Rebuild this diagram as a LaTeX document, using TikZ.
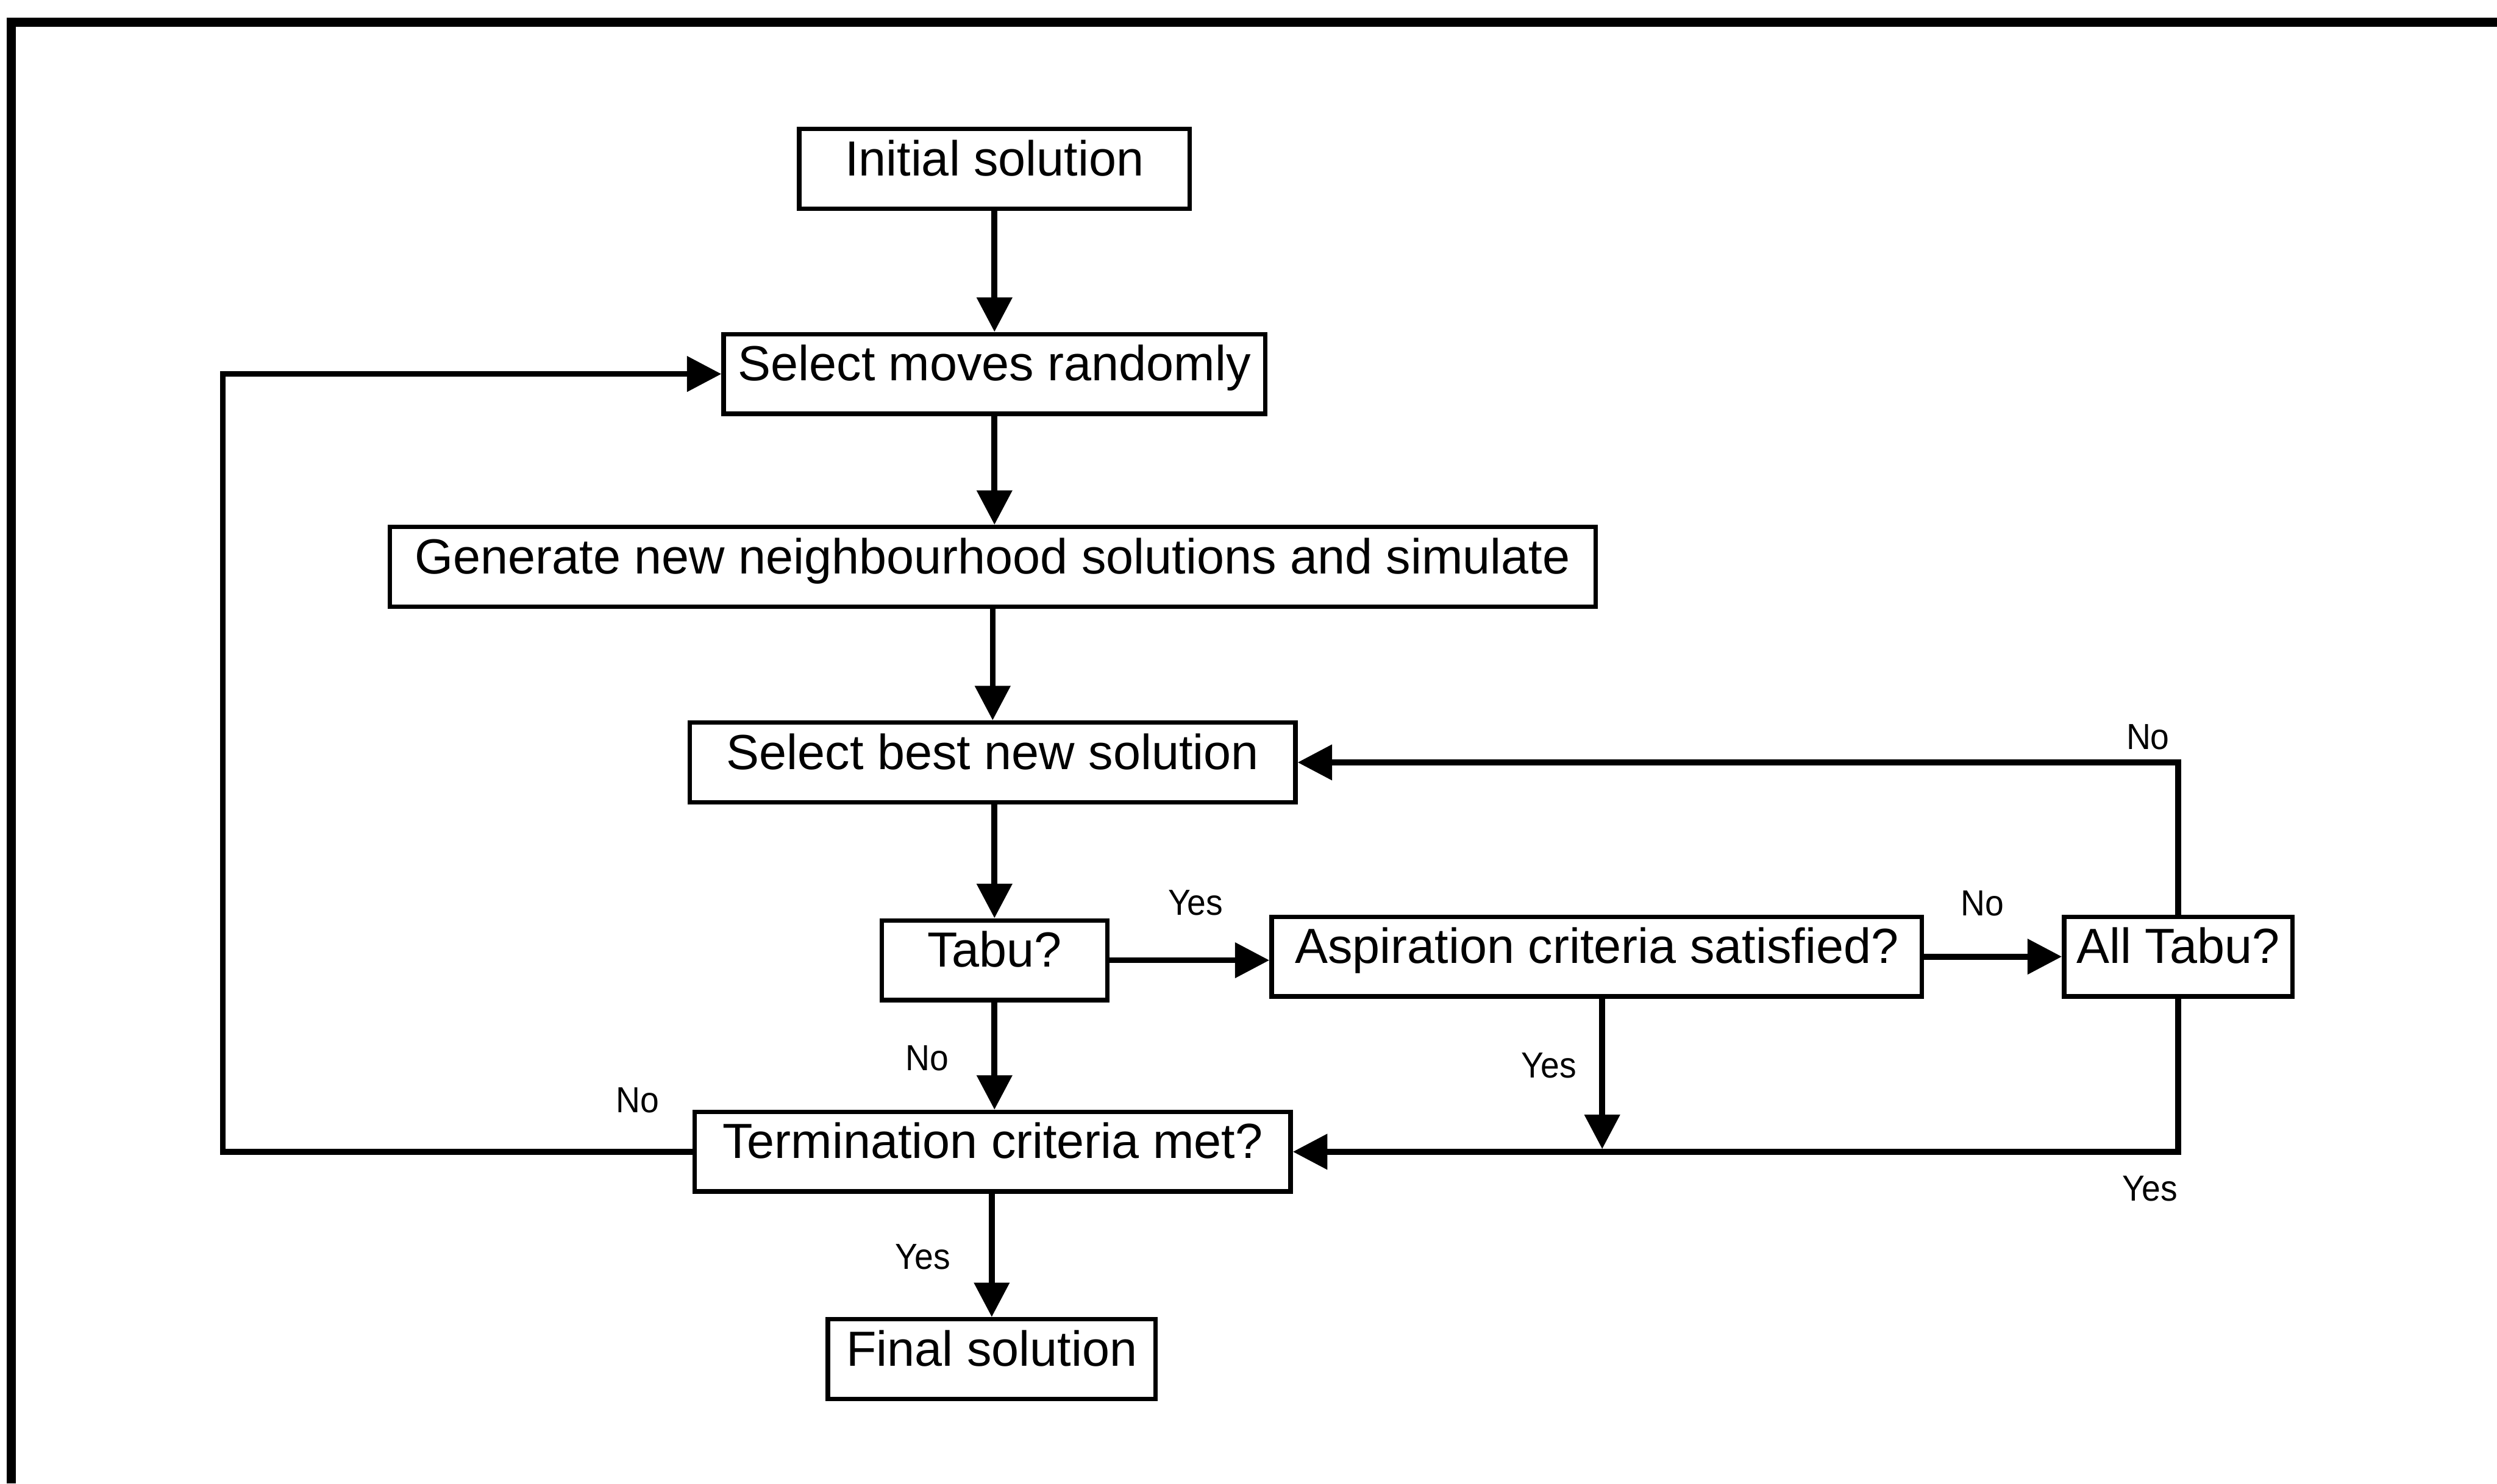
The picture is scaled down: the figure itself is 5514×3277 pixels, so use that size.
\documentclass[tikz,border=0pt]{standalone}
\usepackage{fontspec}
\setmainfont{Liberation Sans}
\newfontfamily\labelfont[FakeStretch=0.93]{Liberation Sans}
\usetikzlibrary{arrows.meta}

\tikzset{
  box/.style={draw, line width=1pt, inner xsep=0pt, inner ysep=0pt,
    text height=10.3pt, text depth=7.3pt, anchor=center,
    font=\fontsize{10.9}{12}\selectfont},
  conn/.style={line width=1.3pt, -{Triangle[length=7.6pt,width=7.6pt]}},
  plain/.style={line width=1.3pt},
  lbl/.style={inner sep=0pt, anchor=center, font=\labelfont\fontsize{8}{9}\selectfont},
}

\begin{document}
\begin{tikzpicture}[x=0.1pt, y=-0.1pt]
  \useasboundingbox (0,0) rectangle (5514,3277);

  % frame along the top and left edges
  \draw[line width=2pt] (25,3277) -- (25,49) -- (5514,49);

  % process steps
  \node[box, minimum width=86.2pt]  (init)    at (2196,373)  {Initial solution};
  \node[box, minimum width=119.6pt] (sel)     at (2196,826)  {Select moves randomly};
  \node[box, minimum width=266.3pt] (gen)     at (2192,1252) {Generate new neighbourhood solutions and simulate};
  \node[box, minimum width=133.7pt] (best)    at (2192,1684) {Select best new solution};
  \node[box, minimum width=49.8pt]  (tabu)    at (2196,2121) {Tabu?};
  \node[box, minimum width=143.6pt] (asp)     at (3526,2113) {Aspiration criteria satisfied?};
  \node[box, minimum width=50.4pt]  (alltabu) at (4810,2113) {All Tabu?};
  \node[box, minimum width=131.6pt] (term)    at (2192,2544) {Termination criteria met?};
  \node[box, minimum width=72.4pt]  (final)   at (2190,3002) {Final solution};

  % helper points
  \coordinate (loopx) at (492,0);
  \coordinate (drop)  at (3538,2538);

  % main column
  \draw[conn] (init.south) -- (init.south |- sel.north);
  \draw[conn] (sel.south)  -- (sel.south |- gen.north);
  \draw[conn] (gen.south -| best.south) -- (best.north);
  \draw[conn] (best.south -| tabu.south) -- (tabu.north);
  \draw[conn] (tabu.south) -- (tabu.south |- term.north);
  \draw[conn] (term.south -| final.north) -- (final.north);

  % tabu branch
  \draw[conn] (tabu.east) -- (tabu.east -| asp.west);
  \draw[conn] (asp.east) -- (alltabu.west);
  \draw[conn] (alltabu.north) -- (alltabu.north |- best.east) -- (best.east);
  \draw[conn] (alltabu.south) -- (alltabu.south |- term.east) -- (term.east);
  \draw[conn] (drop |- asp.south) -- (drop);

  % loop back to move selection
  \draw[conn] (term.west) -- (term.west -| loopx) |- (sel.west);

  % branch labels
  \node[lbl] (yesTabu)  at (2640,1994) {Yes};
  \node[lbl] (noTabu)   at (2047,2338) {No};
  \node[lbl] (noAsp)    at (4377,1995) {No};
  \node[lbl] (noAll)    at (4743,1628) {No};
  \node[lbl] (yesAll)   at (4748,2625) {Yes};
  \node[lbl] (yesAsp)   at (3420,2353) {Yes};
  \node[lbl] (noTerm)   at (1408,2430) {No};
  \node[lbl] (yesTerm)  at (2038,2776) {Yes};
\end{tikzpicture}
\end{document}
